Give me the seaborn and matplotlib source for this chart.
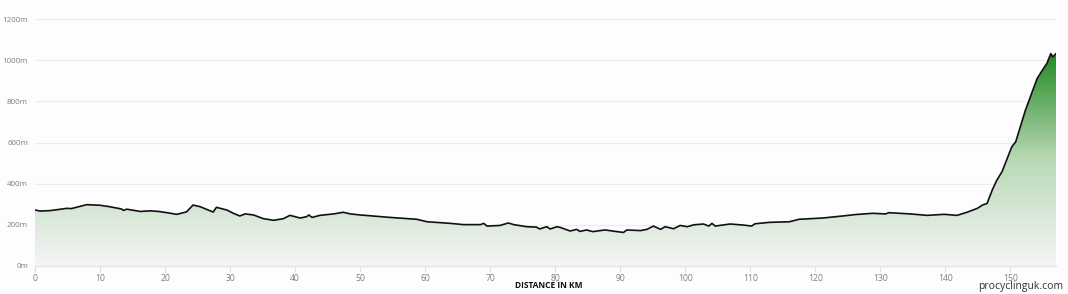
import numpy as np
import pandas as pd
import matplotlib
matplotlib.use("Agg")
import matplotlib.pyplot as plt
from matplotlib.colors import LinearSegmentedColormap
import seaborn as sns

distance_km = [0, 0.8, 2.3, 4.9, 5.6, 7.95, 10, 11.5, 13.3, 13.6, 14.1, 16.2, 17.7, 19, 20.3,
               21.8, 22.8, 23.3, 24.3, 25.4, 27.4, 27.9, 29.5, 30.5, 31.5, 32.3, 33.6, 35.1,
               36.7, 38.2, 39.2, 40.8, 41.8, 42.1, 42.6, 43.8, 45.9, 47.4, 48.5, 50, 54.6,
               58.7, 60.3, 63.9, 65.9, 68.5, 69.0, 69.5, 71.5, 72.8, 73.6, 75.6, 77.1, 77.6,
               78.7, 79.2, 80.3, 80.8, 82.3, 83.3, 83.8, 84.8, 85.8, 86.9, 87.7, 89.5, 90.5,
               91, 93.1, 94.1, 95.1, 96.2, 96.9, 98.2, 99.2, 100.3, 101.3, 102.8, 103.6,
               104.1, 104.6, 106.9, 108.9, 110.2, 110.7, 112.9, 116, 117.5, 121.1, 124.2,
               126.2, 128.8, 130.8, 131.3, 134.6, 137.2, 139.8, 141.8, 143.4, 144.9, 145.7,
               146.4, 147.2, 147.9, 148.7, 150.2, 150.8, 152.3, 154.1, 154.9, 155.6, 156.2,
               156.5, 157]
elevation_m = [272, 267, 269, 280, 279, 298, 295, 288, 277, 270, 276, 265, 268, 265, 259,
               251, 259, 263, 296, 288, 262, 285, 272, 256, 243, 253, 248, 230,
               222, 230, 246, 233, 240, 248, 236, 246, 253, 261, 253, 248, 236,
               227, 215, 207, 201, 201, 207, 194, 197, 209, 201, 191, 189, 180,
               191, 180, 191, 187, 170, 178, 168, 175, 167, 172, 175, 167, 163,
               175, 172, 178, 194, 178, 191, 181, 197, 191, 200, 204, 194,
               207, 194, 204, 199, 194, 205, 212, 215, 227, 233, 243,
               250, 256, 253, 259, 253, 246, 251, 246, 262, 280, 296,
               304, 369, 417, 458, 579, 603, 757, 911, 951, 984, 1032,
               1016, 1032]
y_ticks = [0, 200, 400, 600, 800, 1000, 1200]
x_ticks = list(range(0, 151, 10))

df = pd.DataFrame({"km": distance_km, "elev": elevation_m})

sns.set_theme(style="white")
plt.rcParams["font.family"] = ["Open Sans", "DejaVu Sans"]

fig = plt.figure(figsize=(10.68, 2.94), dpi=100)
fig.patch.set_facecolor("#fdfcfe")
ax = fig.add_axes([35 / 1068, 28 / 294, (1056 - 35) / 1068, (266 - 19) / 294])
ax.set_facecolor("#fdfcfe")

xmax = df["km"].max()
ymax = df["elev"].max()
ax.set_xlim(0, xmax)
ax.set_ylim(0, 1200)

# gridlines
for t in y_ticks[1:]:
    ax.axhline(t, color="#ececec", lw=0.8, zorder=0)

# gradient fill clipped to the profile
cmap = LinearSegmentedColormap.from_list("g", ["#f6f5f7", "#b9d9b5", "#238a22"])
grad = np.linspace(0, 1, 256).reshape(-1, 1)
poly = ax.fill_between(df["km"], df["elev"], 0, color="none", lw=0)
im = ax.imshow(grad, extent=[0, xmax, 0, ymax], origin="lower", aspect="auto",
               cmap=cmap, zorder=1)
path = poly.get_paths()[0]
im.set_clip_path(path, transform=ax.transData)

sns.lineplot(data=df, x="km", y="elev", ax=ax, color="#111111", lw=1.2, zorder=3)

ax.set_xticks(x_ticks)
ax.set_xticklabels([str(v) for v in x_ticks])
ax.set_yticks(y_ticks)
ax.set_yticklabels([f"{v}m" for v in y_ticks])
ax.tick_params(axis="x", length=4, width=0.8, color="#dddde5", labelsize=6.2,
               labelcolor="#808080", pad=2, direction="out", bottom=True)
ax.tick_params(axis="y", length=0, labelsize=5.8, labelcolor="#808080", pad=5)
for s in ["top", "right", "left"]:
    ax.spines[s].set_visible(False)
ax.spines["bottom"].set_color("#e4e2ea")
ax.spines["bottom"].set_linewidth(1.0)
ax.set_xlabel("")
ax.set_ylabel("")

fig.text(549 / 1068, 1 - 286 / 294, "DISTANCE IN KM", ha="center", va="center",
         fontsize=6, fontweight="bold", color="#111111")
fig.text(1063 / 1068, 1 - 287 / 294, "procyclinguk.com", ha="right", va="center",
         fontsize=7.5, color="#333333")

fig.savefig("out.png", dpi=100, facecolor=fig.get_facecolor())
